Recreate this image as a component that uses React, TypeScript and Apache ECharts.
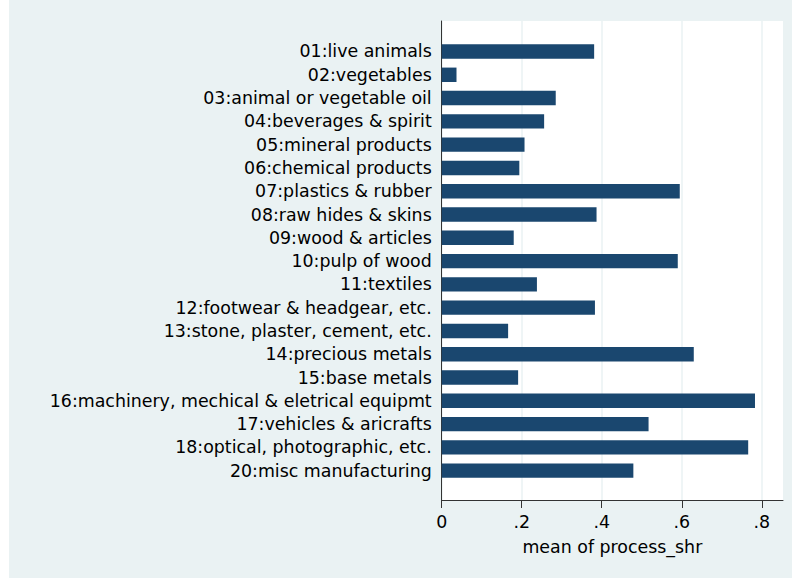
import React, { useEffect, useRef } from "react";
import * as echarts from "echarts";

const categories = [
  "01:live animals",
  "02:vegetables",
  "03:animal or vegetable oil",
  "04:beverages & spirit",
  "05:mineral products",
  "06:chemical products",
  "07:plastics & rubber",
  "08:raw hides & skins",
  "09:wood & articles",
  "10:pulp of wood",
  "11:textiles",
  "12:footwear & headgear, etc.",
  "13:stone, plaster, cement, etc.",
  "14:precious metals",
  "15:base metals",
  "16:machinery, mechical & eletrical equipmt",
  "17:vehicles & aricrafts",
  "18:optical, photographic, etc.",
  "20:misc manufacturing",
];

const meanProcessShr = [
  0.381, 0.037, 0.285, 0.256, 0.207, 0.194, 0.595, 0.387, 0.18, 0.59, 0.238,
  0.383, 0.166, 0.63, 0.191, 0.783, 0.517, 0.766, 0.479,
];

const tickValues = [0, 0.2, 0.4, 0.6, 0.8];
const xMax = 0.853;

const FONT = "DejaVu Sans";

export default function App() {
  const ref = useRef<HTMLDivElement>(null);

  useEffect(() => {
    if (!ref.current) return;
    const chart = echarts.init(ref.current, undefined, { renderer: "svg" });
    const fmt = (v: number) => (v === 0 ? "0" : String(v).replace(/^0/, ""));
    chart.setOption({
      animation: false,
      backgroundColor: "#EAF2F3",
      grid: [
        {
          left: 432.7,
          right: 9,
          top: 21,
          bottom: 78,
          show: true,
          backgroundColor: "#ffffff",
          borderWidth: 0,
        },
        {
          left: 432.7,
          right: 9,
          top: 39.85,
          bottom: 95.7,
          show: false,
        },
      ],
      xAxis: [
        {
          type: "value",
          gridIndex: 0,
          min: 0,
          max: xMax,
          interval: 0.2,
          name: "mean of process_shr",
          nameLocation: "middle",
          nameGap: 38,
          nameTextStyle: { fontFamily: FONT, fontSize: 17.4, color: "#000" },
          axisLine: { show: true, lineStyle: { color: "#333", width: 1 } },
          axisTick: {
            show: true,
            length: 8,
            customValues: tickValues,
            lineStyle: { color: "#333", width: 1 },
          },
          axisLabel: {
            customValues: tickValues,
            margin: 13,
            fontFamily: FONT,
            fontSize: 17.4,
            color: "#000",
            formatter: fmt,
          },
          splitLine: { show: true, lineStyle: { color: "#EAF2F3", width: 1.5 } },
        },
        {
          type: "value",
          gridIndex: 1,
          min: 0,
          max: xMax,
          show: false,
        },
      ],
      yAxis: [
        {
          type: "value",
          gridIndex: 0,
          min: 0,
          max: 1,
          axisLine: { show: true, lineStyle: { color: "#333", width: 1 } },
          axisTick: { show: false },
          axisLabel: { show: false },
          splitLine: { show: false },
        },
        {
          type: "category",
          gridIndex: 1,
          inverse: true,
          data: categories,
          axisLine: { show: false },
          axisTick: { show: false },
          axisLabel: {
            margin: 10,
            fontFamily: FONT,
            fontSize: 17.4,
            color: "#000",
          },
        },
      ],
      series: [
        {
          type: "bar",
          xAxisIndex: 1,
          yAxisIndex: 1,
          data: meanProcessShr,
          barWidth: 14.4,
          itemStyle: { color: "#1a476f" },
        },
      ],
    });
    return () => chart.dispose();
  }, []);

  return (
    <div
      ref={ref}
      style={{
        position: "fixed",
        left: 9,
        top: 0,
        width: 783,
        height: 578,
      }}
    />
  );
}
